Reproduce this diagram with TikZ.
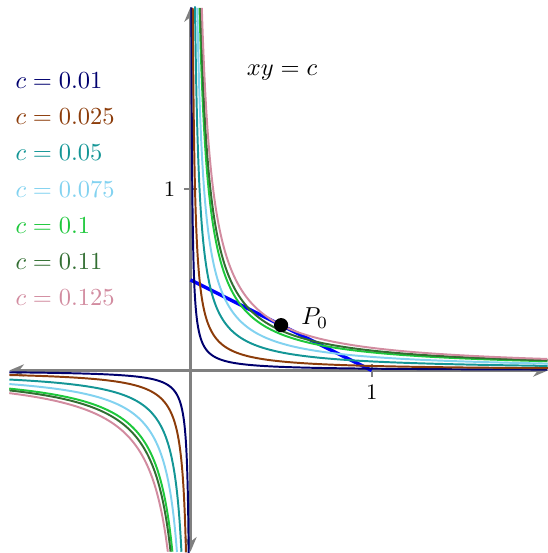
\documentclass[tikz,border=0pt]{standalone}
\usepackage{tikz}
\usetikzlibrary{arrows.meta, positioning}
\definecolor{cnavy}{RGB}{0,0,110}
\definecolor{cbrown}{RGB}{140,60,10}
\definecolor{cteal}{RGB}{20,150,150}
\definecolor{csky}{RGB}{130,210,240}
\definecolor{cgreen}{RGB}{30,200,60}
\definecolor{cdkgreen}{RGB}{50,110,50}
\definecolor{cpink}{RGB}{210,140,160}
\begin{document}
\begin{tikzpicture}[x=2.6cm,y=2.6cm,
  axisline/.style={draw=gray, line width=1pt, {Stealth[length=6pt,width=5pt]}-{Stealth[length=6pt,width=5pt]}},
  tickmark/.style={draw=gray, line width=1pt},
  ticklabel/.style={font=\small},
  hyp/.style={line width=0.8pt, smooth, samples=120},
  legend/.style={anchor=west, inner sep=3.33pt}]
\useasboundingbox (-1.051,-1.007) rectangle (1.972,2.044);
% axes
\draw[axisline] (-1,0) -- (1.972,0);
\draw[axisline] (0,-1) -- (0,2.005);
\draw[tickmark] (1,-0.036) -- (1,0.036);
\draw[tickmark] (-0.036,1) -- (0.036,1);
\node[ticklabel, below] (xone) at (1,-0.036) {$1$};
\node[ticklabel, left] (yone) at (-0.036,1) {$1$};
% tangent line
\draw[blue, line width=1.4pt] (0,0.5) -- (1,0);
% branches of xy=c
\begin{scope}
\clip (-1.051,-1.007) rectangle (1.972,2.044);
\draw[hyp, cnavy] plot[domain=-5.2983:0.6791] ({exp(\x)},{0.01/exp(\x)});
\draw[hyp, cnavy] plot[domain=-4.6052:0] ({-exp(\x)},{-0.01/exp(\x)});
\draw[hyp, cbrown] plot[domain=-4.3820:0.6791] ({exp(\x)},{0.025/exp(\x)});
\draw[hyp, cbrown] plot[domain=-3.6889:0] ({-exp(\x)},{-0.025/exp(\x)});
\draw[hyp, cteal] plot[domain=-3.6889:0.6791] ({exp(\x)},{0.05/exp(\x)});
\draw[hyp, cteal] plot[domain=-2.9957:0] ({-exp(\x)},{-0.05/exp(\x)});
\draw[hyp, csky] plot[domain=-3.2834:0.6791] ({exp(\x)},{0.075/exp(\x)});
\draw[hyp, csky] plot[domain=-2.5903:0] ({-exp(\x)},{-0.075/exp(\x)});
\draw[hyp, cgreen] plot[domain=-2.9957:0.6791] ({exp(\x)},{0.1/exp(\x)});
\draw[hyp, cgreen] plot[domain=-2.3026:0] ({-exp(\x)},{-0.1/exp(\x)});
\draw[hyp, cdkgreen] plot[domain=-2.9004:0.6791] ({exp(\x)},{0.11/exp(\x)});
\draw[hyp, cdkgreen] plot[domain=-2.2073:0] ({-exp(\x)},{-0.11/exp(\x)});
\draw[hyp, cpink] plot[domain=-2.7726:0.6791] ({exp(\x)},{0.125/exp(\x)});
\draw[hyp, cpink] plot[domain=-2.0794:0] ({-exp(\x)},{-0.125/exp(\x)});
\end{scope}
% point of tangency
\node[circle, fill=black, inner sep=0pt, minimum size=5.8pt] (P0) at (0.5,0.25) {};
\node[right=1.6pt of P0, yshift=3pt] (P0lab) {$P_0$};
\node (xyc) at (0.505,1.646) {$xy=c$};
% legend
\node[legend, text=cnavy] (leg1) at (-1.013,1.6) {$c=0.01$};
\node[legend, text=cbrown] (leg2) at (-1.013,1.4) {$c=0.025$};
\node[legend, text=cteal] (leg3) at (-1.013,1.2) {$c=0.05$};
\node[legend, text=csky] (leg4) at (-1.013,1.0) {$c=0.075$};
\node[legend, text=cgreen] (leg5) at (-1.013,0.8) {$c=0.1$};
\node[legend, text=cdkgreen] (leg6) at (-1.013,0.6) {$c=0.11$};
\node[legend, text=cpink] (leg7) at (-1.013,0.4) {$c=0.125$};
\end{tikzpicture}
\end{document}
